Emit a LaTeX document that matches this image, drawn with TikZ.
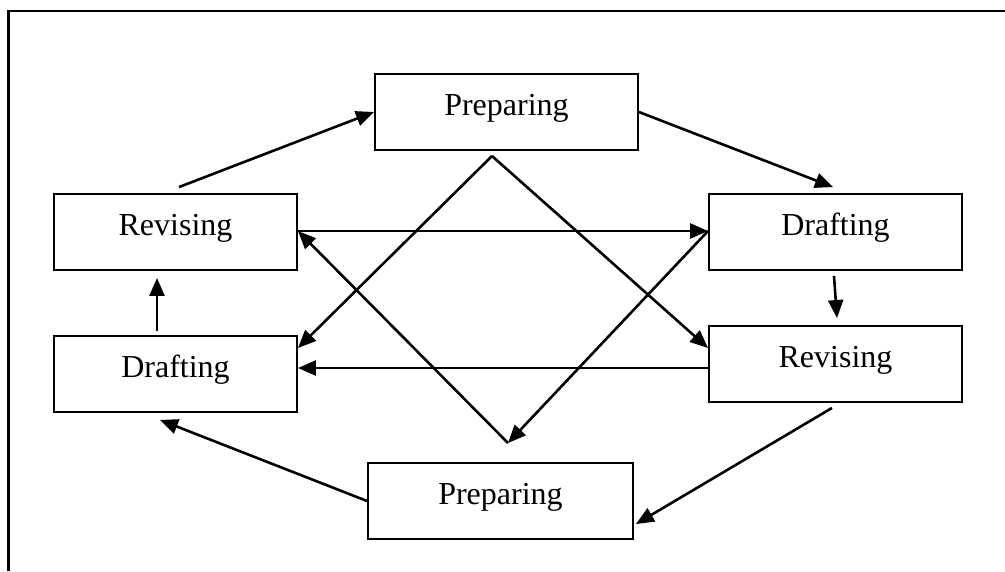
\documentclass[tikz,border=0pt]{standalone}
\usepackage{fontspec}
\setmainfont{Liberation Serif}
\usetikzlibrary{arrows.meta}

\begin{document}
\begin{tikzpicture}[x=1pt, y=-1pt,
        stage/.style={draw, line width=1.9pt, minimum height=76pt, inner sep=0pt,
            text height=20pt, text depth=14pt, font=\fontsize{32}{38}\selectfont},
        flow/.style={line width=2.6pt, -{Triangle[length=18pt, width=15pt]}}]
            \useasboundingbox (0,0) rectangle (1005,571);
            \draw[line width=2.2pt] (8.5,571) -- (8.5,11) -- (1005,11);

            \node[stage, minimum width=263pt] (prepTop) at (506.5,112) {Preparing};
            \node[stage, minimum width=243pt] (revL) at (175.5,232) {Revising};
            \node[stage, minimum width=253pt] (draftR) at (835.5,232) {Drafting};
            \node[stage, minimum width=243pt] (draftL) at (175.5,374) {Drafting};
            \node[stage, minimum width=253pt] (revR) at (835.5,364) {Revising};
            \node[stage, minimum width=265pt] (prepBot) at (500.5,501) {Preparing};

            \coordinate (apexT) at (492,156);
            \coordinate (apexB) at (508,443);

            % outer ring
            \draw[flow] ([shift={(3.5,-6)}]revL.north) -- (prepTop.west);
            \draw[flow] (prepTop.east) -- ([shift={(-2.5,-6)}]draftR.north);
            \draw[flow] ([shift={(-1.5,5)}]draftR.south) -- ([shift={(1.5,-7)}]revR.north);
            \draw[flow] ([shift={(-3.5,5)}]revR.south) -- ([shift={(2,23)}]prepBot.east);
            \draw[flow] (prepBot.west) -- ([shift={(-15.5,7)}]draftL.south);
            \draw[flow] ([shift={(-18.5,-4)}]draftL.north) -- ([shift={(-18.5,7)}]revL.south);

            % across
            \draw[flow] ([shift={(0,-1)}]revL.east) -- ([shift={(0,-1)}]draftR.west);
            \draw[flow] ([shift={(0,4)}]revR.west) -- ([shift={(0,-6)}]draftL.east);

            % diagonals
            \draw[flow] (apexT) -- ([shift={(0,-26)}]draftL.east);
            \draw[flow] (apexT) -- ([shift={(0,-16)}]revR.west);
            \draw[flow] ([shift={(0,-1)}]draftR.west) -- (apexB);
            \draw[flow] (apexB) -- ([shift={(0,-1)}]revL.east);
        \end{tikzpicture}
\end{document}
